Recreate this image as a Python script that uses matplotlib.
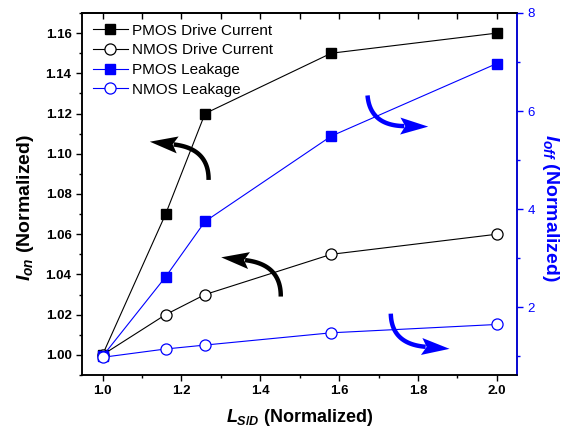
import matplotlib
matplotlib.use('Agg')
import matplotlib.pyplot as plt
import numpy as np
from matplotlib.patches import Polygon
from matplotlib.lines import Line2D
from matplotlib.transforms import IdentityTransform
from matplotlib.ticker import MultipleLocator

plt.rcParams['font.family'] = ['Liberation Sans', 'DejaVu Sans']
plt.rcParams['mathtext.fontset'] = 'custom'
plt.rcParams['mathtext.it'] = 'Liberation Sans:italic:bold'
plt.rcParams['mathtext.rm'] = 'Liberation Sans:bold'
plt.rcParams['mathtext.bf'] = 'Liberation Sans:bold'

# data
lsd = [1.0, 1.16, 1.26, 1.58, 2.0]
pmos_drive = [1.00, 1.07, 1.12, 1.15, 1.16]
nmos_drive = [1.00, 1.02, 1.03, 1.05, 1.06]
pmos_leak = [1.0, 2.62, 3.75, 5.49, 6.97]
nmos_leak = [0.98, 1.15, 1.23, 1.48, 1.65]

BLUE = '#0000ff'

fig = plt.figure(figsize=(5.69, 4.29), dpi=100)
ax = fig.add_axes([0.1441, 0.1259, 0.7645, 0.8438])
ax2 = ax.twinx()

l1, = ax.plot(lsd, pmos_drive, color='black', lw=0.8, marker='s', ms=7.5,
              mfc='black', mec='black', label='PMOS Drive Current')
l2, = ax.plot(lsd, nmos_drive, color='black', lw=0.8, marker='o', ms=8,
              mfc='white', mec='black', mew=0.9, label='NMOS Drive Current')
l3, = ax2.plot(lsd, pmos_leak, color=BLUE, lw=0.8, marker='s', ms=7.5,
               mfc=BLUE, mec=BLUE, label='PMOS Leakage')
l4, = ax2.plot(lsd, nmos_leak, color=BLUE, lw=0.8, marker='o', ms=8,
               mfc='white', mec=BLUE, mew=0.9, label='NMOS Leakage')

ax.set_xlim(0.948, 2.051)
ax.set_ylim(0.99, 1.17)
ax2.set_ylim(0.62, 8.0)

ax.xaxis.set_major_locator(MultipleLocator(0.2))
ax.xaxis.set_minor_locator(MultipleLocator(0.1))
ax.yaxis.set_major_locator(MultipleLocator(0.02))
ax.yaxis.set_minor_locator(MultipleLocator(0.01))
ax2.yaxis.set_major_locator(MultipleLocator(2))
ax2.yaxis.set_minor_locator(MultipleLocator(1))

for sp in ax.spines.values():
    sp.set_linewidth(1.1)
for sp in ax2.spines.values():
    sp.set_linewidth(1.1)

ax.tick_params(axis='both', which='major', direction='out', length=4, width=1.0)
ax.tick_params(axis='both', which='minor', direction='out', length=2.5, width=1.0)

# top axis ticks point inward, no labels
top = ax.secondary_xaxis('top')
top.xaxis.set_major_locator(MultipleLocator(0.2))
top.xaxis.set_minor_locator(MultipleLocator(0.1))
top.tick_params(which='major', direction='in', length=4, width=1.0, labeltop=False)
top.tick_params(which='minor', direction='in', length=4, width=1.0)
top.spines['top'].set_linewidth(1.1)

ax2.tick_params(axis='y', which='major', direction='out', length=4, width=1.0,
                colors=BLUE, labelsize=9.5)
ax2.tick_params(axis='y', which='minor', direction='out', length=2.5, width=1.0,
                colors=BLUE)
ax2.spines['right'].set_color(BLUE)

for lab in ax.get_xticklabels() + ax.get_yticklabels():
    lab.set_fontweight('bold')
    lab.set_fontsize(9.5)

ax.set_ylabel(r'$I_{on}$ (Normalized)', fontsize=14, fontweight='bold', labelpad=7)
ax.yaxis.label.set_y(0.462)
ax.set_xlabel(r'$L_{S/D}$ (Normalized)', fontsize=13, fontweight='bold', labelpad=7)
ax2.set_ylabel(r'$I_{off}$ (Normalized)', fontsize=14, fontweight='bold',
               color=BLUE, rotation=270, labelpad=19)
ax2.yaxis.label.set_y(0.462)

ax2.legend([l1, l2, l3, l4], [h.get_label() for h in [l1, l2, l3, l4]],
           loc='upper left', frameon=False, fontsize=11, handlelength=2.3,
           handletextpad=0.3, labelspacing=0.37, borderaxespad=0.3,
           bbox_to_anchor=(0.0, 1.0))

# curved arrows pointing to the matching axis (tail, tip, colour)
arrows = [
    ((1.269, 1.087), (1.120, 1.106), 'black'),
    ((1.452, 1.029), (1.301, 1.0485), 'black'),
    ((1.672, 1.129), (1.826, 1.1135), BLUE),
    ((1.731, 1.0205), (1.880, 1.003), BLUE),
]


def curved_arrow(tail, tip, color, rad=0.45, head_len=28, head_half=8.5):
    p0 = ax.transData.transform(tail)
    p2 = ax.transData.transform(tip)
    u = (p2 - p0) / np.hypot(*(p2 - p0))
    for _ in range(8):
        base = p2 - head_len * u
        d = base - p0
        cb = (p0 + base) / 2 + rad * np.array([d[1], -d[0]])
        u = (base - cb) / np.hypot(*(base - cb))
    base = p2 - head_len * u
    t = np.linspace(0, 1, 40)[:, None]
    end = base + u * 4
    pts = (1 - t) ** 2 * p0 + 2 * (1 - t) * t * cb + t ** 2 * end
    fig.add_artist(Line2D(pts[:, 0], pts[:, 1], transform=IdentityTransform(),
                          color=color, lw=3.2, solid_capstyle='butt', zorder=5))
    n = np.array([-u[1], u[0]])
    tri = np.array([p2, base + n * head_half, base + u * 5, base - n * head_half])
    fig.add_artist(Polygon(tri, closed=True, transform=IdentityTransform(),
                           color=color, lw=0, zorder=5))


fig.canvas.draw()
for tail, tip, c in arrows:
    curved_arrow(tail, tip, c)

fig.savefig('out.png', dpi=100)
